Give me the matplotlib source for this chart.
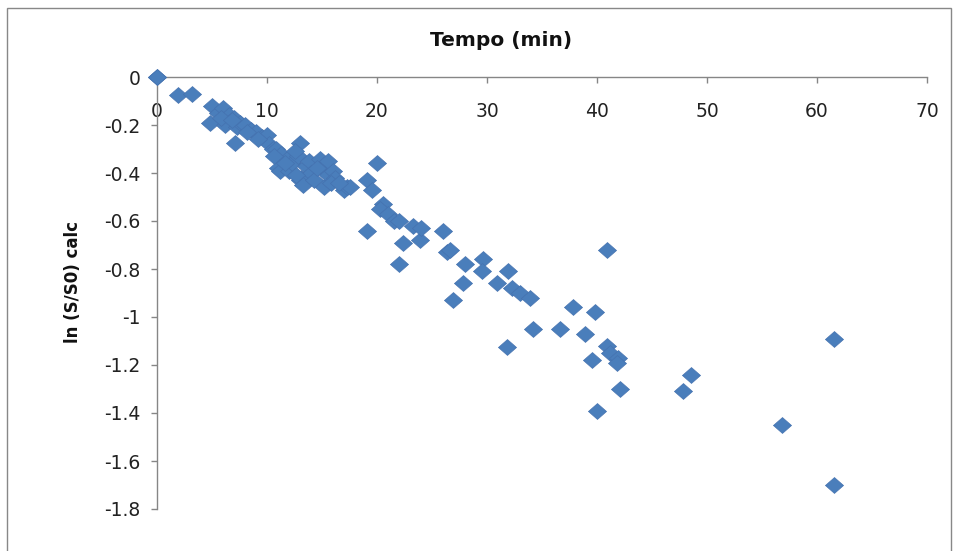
import matplotlib.pyplot as plt
from matplotlib.patches import Rectangle

# tempo (min) and ln(S/S0) calc
tempo = [0, 0, 1.9, 3.2,
         5, 4.8, 5.5, 6, 6.2, 6.5, 7, 7.3, 7.5, 7.1, 8, 8.5, 9, 9.5,
         10, 10.2, 10.5, 10.8, 11, 11.2, 11.3, 11.8, 12, 12.3, 12.8,
         13, 13, 13.1, 13.3, 13.5, 13.8, 14, 14.3, 14.8, 15, 15.2, 15.5,
         15.5, 16, 16.2, 17, 17.3, 17.5,
         5.8, 6.8, 8.2, 9.2, 10.6, 11.6, 12.5, 12.6, 14.5, 15.8, 16.5,
         19.1, 20, 19.5, 20.5, 20.3, 21, 21.5, 22, 22, 22.4, 23.3, 23.9,
         19.1, 24, 26, 26.4, 26.6, 28, 29.6, 29.5, 27.8, 26.9, 31.9,
         30.9, 32.3, 33, 33.9, 34.2, 36.6, 31.8,
         40.9, 37.8, 39.8, 38.9, 40.9, 41.2, 41.9, 41.8, 39.5, 42.1, 40,
         48.5, 47.8, 56.8, 61.5, 61.5]
ln_s = [0, 0, -0.075, -0.07,
        -0.12, -0.19, -0.15, -0.13, -0.2, -0.16, -0.17, -0.21, -0.19, -0.275, -0.2, -0.22, -0.23, -0.25,
        -0.24, -0.28, -0.3, -0.3, -0.38, -0.39, -0.32, -0.34, -0.39, -0.36, -0.33,
        -0.275, -0.43, -0.42, -0.45, -0.37, -0.35, -0.4, -0.43, -0.34, -0.38, -0.46, -0.41,
        -0.35, -0.39, -0.42, -0.47, -0.46, -0.46,
        -0.17, -0.18, -0.23, -0.26, -0.33, -0.36, -0.31, -0.41, -0.38, -0.44, -0.44,
        -0.43, -0.36, -0.47, -0.53, -0.55, -0.57, -0.6, -0.6, -0.78, -0.69, -0.62, -0.68,
        -0.64, -0.63, -0.64, -0.73, -0.72, -0.78, -0.76, -0.81, -0.86, -0.93, -0.81,
        -0.86, -0.88, -0.9, -0.92, -1.05, -1.05, -1.125,
        -0.72, -0.96, -0.98, -1.07, -1.12, -1.15, -1.17, -1.19, -1.18, -1.3, -1.39,
        -1.24, -1.31, -1.45, -1.70, -1.09]

x_ticks = [0, 10, 20, 30, 40, 50, 60, 70]
y_ticks = [0, -0.2, -0.4, -0.6, -0.8, -1, -1.2, -1.4, -1.6, -1.8]

plt.rcParams['font.family'] = ['DejaVu Sans']

fig = plt.figure(figsize=(9.58, 5.51), dpi=100)
ax = fig.add_axes([157/958, 42/551, 770/958, 432/551])

# Excel diamond, a little wider than tall in the picture
diamond = [(-1, 0), (0, 0.88), (1, 0), (0, -0.88), (-1, 0)]
ax.scatter(tempo, ln_s, marker=diamond, s=13**2, color='#4A7EBB', edgecolor='#4572B0',
           linewidth=0.5, clip_on=False, zorder=3)

ax.set_xlim(0, 70)
ax.set_ylim(-1.8, 0)
ax.set_xticks(x_ticks)
ax.set_xticklabels([str(t) for t in x_ticks])
ax.set_yticks(y_ticks)
ax.set_yticklabels([('%g' % t) for t in y_ticks])

ax.spines['top'].set_visible(False)
ax.spines['right'].set_visible(False)
ax.spines['bottom'].set_position(('data', 0))
for s in ['bottom', 'left']:
    ax.spines[s].set_color('#868686')
    ax.spines[s].set_linewidth(1)
ax.tick_params(axis='x', direction='out', length=4, width=1, color='#868686',
               pad=14, labelsize=13.5, labelcolor='#222222')
ax.tick_params(axis='y', direction='out', length=4, width=1, color='#868686',
               pad=8, labelsize=13.5, labelcolor='#222222')

fig.text(501/958, 1 - 40/551, 'Tempo (min)', fontsize=14.5, fontweight='bold',
         ha='center', va='center', color='#111111')
fig.text(73/958, 1 - 282/551, 'ln (S/S0) calc', fontsize=12, fontweight='bold',
         rotation=90, ha='center', va='center', color='#111111')

fig.patches.append(Rectangle((7/958, -0.05), 944/958, 1 - 8/551 + 0.05,
                             transform=fig.transFigure, fill=False,
                             edgecolor='#888888', linewidth=1))

fig.savefig('out.png', dpi=100)
